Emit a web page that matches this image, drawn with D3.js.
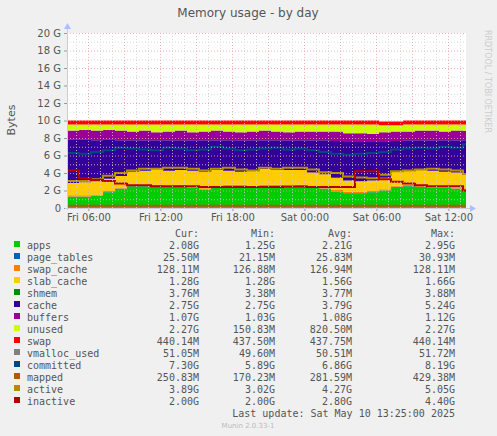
<!DOCTYPE html>
<html>
<head>
<meta charset="UTF-8">
<style>
  body { margin: 0; background: #f0f0f0; }
  text { font-family: "DejaVu Sans", sans-serif; }
  .mono { font-family: "DejaVu Sans Mono", monospace; font-size: 10px; fill: #555; }
</style>
</head>
<body>
<script src="https://cdnjs.cloudflare.com/ajax/libs/d3/7.8.5/d3.min.js"></script>
<script>

// hourly samples, Fri 04:13 .. Sat 13:13 (values in GB)
var apps      = [1.3,1.3,1.4,1.8,2.2,2.5,2.5,2.5,2.4,2.5,2.3,2.1,2.3,2.5,2.5,2.4,2.5,2.5,2.4,2.5,2.3,2.2,1.9,1.7,1.7,1.8,2.0,2.4,2.5,2.4,2.3,2.3,2.2,2.1];
var pageTables = [0.025,0.025,0.025,0.025,0.025,0.025,0.025,0.025,0.025,0.025,0.025,0.025,0.025,0.025,0.025,0.025,0.025,0.025,0.025,0.025,0.025,0.025,0.025,0.025,0.025,0.025,0.025,0.025,0.025,0.025,0.025,0.025,0.025,0.025];
var swapCache = [0.127,0.127,0.127,0.127,0.127,0.127,0.127,0.127,0.127,0.127,0.127,0.127,0.127,0.127,0.127,0.127,0.127,0.127,0.127,0.127,0.127,0.127,0.127,0.127,0.127,0.127,0.127,0.127,0.127,0.127,0.127,0.127,0.127,0.127];
var slabCache = [1.4,1.5,1.5,1.4,1.3,1.5,1.6,1.8,1.7,1.7,1.8,1.9,1.9,1.6,1.5,1.7,1.8,1.7,1.8,1.7,1.6,1.5,1.4,1.3,1.2,1.2,1.3,1.6,1.7,1.8,1.8,1.7,1.7,1.6];
var shmem     = [0.004,0.004,0.004,0.004,0.004,0.004,0.004,0.004,0.004,0.004,0.004,0.004,0.004,0.004,0.004,0.004,0.004,0.004,0.004,0.004,0.004,0.004,0.004,0.004,0.004,0.004,0.004,0.004,0.004,0.004,0.004,0.004,0.004,0.004];
var cache     = [5.0,4.9,4.7,4.5,4.1,3.6,3.5,3.3,3.5,3.4,3.5,3.6,3.4,3.5,3.6,3.5,3.3,3.4,3.4,3.4,3.7,3.9,4.2,4.4,4.5,4.4,4.1,3.5,3.4,3.4,3.5,3.6,3.7,3.9];
var buffers   = [1.0,1.1,1.1,1.1,1.1,1.0,1.1,0.9,1.0,1.1,0.9,1.0,1.1,1.0,0.9,1.0,1.1,1.0,0.9,1.0,1.0,1.0,1.1,1.0,1.0,0.9,1.1,1.1,1.0,1.1,1.1,1.0,1.1,1.07];
var unused    = [0.70,0.60,0.70,0.60,0.70,0.80,0.70,0.90,0.80,0.70,0.90,0.80,0.70,0.80,0.90,0.80,0.70,0.80,0.90,0.80,0.80,0.80,0.80,1.00,1.00,1.10,0.80,0.70,0.80,0.70,0.70,0.80,0.70,0.73];
var swap      = [0.44,0.44,0.44,0.44,0.44,0.44,0.44,0.44,0.44,0.44,0.44,0.44,0.44,0.44,0.44,0.44,0.44,0.44,0.44,0.44,0.44,0.44,0.44,0.44,0.44,0.44,0.44,0.44,0.44,0.44,0.44,0.44,0.44,0.44];

var vmallocUsed = [0.05,0.05,0.05,0.05,0.05,0.05,0.05,0.05,0.05,0.05,0.05,0.05,0.05,0.05,0.05,0.05,0.05,0.05,0.05,0.05,0.05,0.05,0.05,0.05,0.05,0.05,0.05,0.05,0.05,0.05,0.05,0.05,0.05,0.05];
var committed = [6.3,6.2,6.4,6.6,6.9,6.8,6.7,6.6,6.9,6.8,6.6,6.7,7.0,6.8,6.6,6.7,6.8,6.9,6.7,6.8,6.6,6.4,6.2,6.1,6.2,6.3,6.4,6.7,6.8,6.9,6.8,7.0,6.9,7.3];
var mapped    = [0.25,0.25,0.26,0.26,0.25,0.25,0.26,0.25,0.25,0.26,0.25,0.25,0.25,0.26,0.25,0.25,0.25,0.26,0.25,0.25,0.25,0.25,0.26,0.25,0.25,0.25,0.26,0.25,0.25,0.25,0.26,0.25,0.25,0.25];
var active    = [3.1,3.1,3.3,3.7,4.0,4.3,4.5,4.5,4.6,4.6,4.5,4.3,4.5,4.6,4.4,4.3,4.6,4.5,4.6,4.6,4.4,4.1,4.0,3.6,3.5,3.4,3.8,4.2,4.3,4.4,4.5,4.4,4.3,3.9];
var inactive  = [4.3,3.4,3.2,3.1,2.8,2.6,2.6,2.5,2.5,2.5,2.5,2.4,2.4,2.4,2.4,2.4,2.4,2.4,2.45,2.45,2.4,2.4,2.4,2.4,4.2,4.2,3.3,3.0,2.8,2.6,2.5,2.5,2.5,2.0];

var yTicks = [0, 2, 4, 6, 8, 10, 12, 14, 16, 18, 20];

var names = ["apps","page_tables","swap_cache","slab_cache","shmem","cache","buffers","unused","swap","vmalloc_used","committed","mapped","active","inactive"];
var colors = ["#00cc00","#0066b3","#ff8000","#ffcc00","#008f00","#330099","#990099","#ccff00","#ff0000","#808080","#00487d","#b35a00","#b38f00","#b30000"];
var curV = ["2.08G","25.50M","128.11M","1.28G","3.76M","2.75G","1.07G","2.27G","440.14M","51.05M","7.30G","250.83M","3.89G","2.00G"];
var minV = ["1.25G","21.15M","126.88M","1.28G","3.38M","2.75G","1.03G","150.83M","437.50M","49.60M","5.89G","170.23M","3.02G","2.00G"];
var avgV = ["2.21G","25.83M","126.94M","1.56G","3.77M","3.79G","1.08G","820.50M","437.75M","50.51M","6.86G","281.59M","4.27G","2.80G"];
var maxV = ["2.95G","30.93M","128.11M","1.66G","3.88M","5.24G","1.12G","2.27G","440.14M","51.72M","8.19G","429.38M","5.05G","4.40G"];

var stackSeries = [apps, pageTables, swapCache, slabCache, shmem, cache, buffers, unused, swap];
var lineSeries = [vmallocUsed, committed, mapped, active, inactive];

var W = 497, H = 436;
var pL = 67, pR = 466, pT = 33, pB = 208;

var start = new Date(2025, 4, 9, 4, 13);
var times = apps.map(function(d, i){ return d3.timeHour.offset(start, i); });
var end = new Date(2025, 4, 10, 13, 28);

var x = d3.scaleTime().domain([start, end]).range([pL, pR]);
var y = d3.scaleLinear().domain([0, 20]).range([pB, pT]);

var svg = d3.select("body").append("svg").attr("width", W).attr("height", H);

svg.append("rect").attr("x", pL).attr("y", pT).attr("width", pR - pL).attr("height", pB - pT).attr("fill", "#fff");

// stacked data
var rows = times.map(function(t, i){
  var r = { t: t };
  stackSeries.forEach(function(s, k){ r[names[k]] = s[i]; });
  return r;
});
rows.push(Object.assign({}, rows[rows.length - 1], { t: end }));
var stacked = d3.stack().keys(names.slice(0, 9))(rows);

var area = d3.area().curve(d3.curveStepAfter)
  .x(function(d){ return x(d.data.t); })
  .y0(function(d){ return y(d[0]); })
  .y1(function(d){ return y(d[1]); });

svg.selectAll(".layer").data(stacked).enter().append("path")
  .attr("d", area)
  .attr("fill", function(d, i){ return colors[i]; });

// lines
var line = d3.line().curve(d3.curveStepAfter)
  .x(function(d, i){ return x(i < times.length ? times[i] : end); })
  .y(function(d){ return y(d); });
lineSeries.forEach(function(s, k){
  svg.append("path").attr("d", line(s.concat([s[s.length - 1]])))
    .attr("fill", "none").attr("stroke", colors[9 + k]).attr("stroke-width", 2);
});

// grid (drawn on top, like rrdtool)
var g = svg.append("g").attr("opacity", 0.8);
function vline(t, col) {
  var px = Math.round(x(t)) + 0.5;
  if (px < pL || px > pR) return;
  g.append("line").attr("y1", pT).attr("y2", pB).attr("x1", px).attr("x2", px)
    .attr("stroke", col).attr("stroke-dasharray", "1,2");
}
d3.range(0, 20.01, 1).forEach(function(v){
  g.append("line").attr("x1", pL).attr("x2", pR).attr("y1", y(v) + 0.5).attr("y2", y(v) + 0.5)
    .attr("stroke", v % 2 ? "#d0d0d0" : "#f0a0a0").attr("stroke-dasharray", "1,2");
});
d3.timeHour.range(start, end).forEach(function(t){
  vline(t, t.getHours() % 3 === 0 ? "#f0a0a0" : "#d0d0d0");
});

// axes
var yAxis = d3.axisLeft(y).tickValues(yTicks).tickSize(3).tickFormat(function(d){ return d === 0 ? "0" : d + " G"; });
var ya = svg.append("g").attr("transform", "translate(" + pL + ",0)").call(yAxis);
ya.select(".domain").remove();
ya.selectAll("text").attr("fill", "#555").style("font-size", "10px").attr("x", -6);
ya.selectAll("line").attr("stroke", "#999");

var xAxis = d3.axisBottom(x).ticks(d3.timeHour.every(6)).tickSize(3).tickFormat(d3.timeFormat("%a %H:%M"));
var xa = svg.append("g").attr("transform", "translate(0," + pB + ")").call(xAxis);
xa.select(".domain").remove();
xa.selectAll("text").attr("fill", "#555").style("font-size", "10px");
xa.selectAll("line").attr("stroke", "#999");

svg.append("line").attr("x1", pL + 0.5).attr("x2", pL + 0.5).attr("y1", pB + 2).attr("y2", pT - 6).attr("stroke", "#ccd");
svg.append("path").attr("d", "M" + (pL - 3) + "," + (pT - 4) + "L" + (pL + 4) + "," + (pT - 4) + "L" + (pL + 0.5) + "," + (pT - 10) + "Z").attr("fill", "#aac0ff");
svg.append("line").attr("x1", pL - 2).attr("x2", pR + 6).attr("y1", pB + 0.5).attr("y2", pB + 0.5).attr("stroke", "#ccd");
svg.append("path").attr("d", "M" + (pR + 4) + "," + (pB - 3) + "L" + (pR + 4) + "," + (pB + 4) + "L" + (pR + 10) + "," + (pB + 0.5) + "Z").attr("fill", "#aac0ff");

// titles
svg.append("text").attr("x", 248).attr("y", 17).attr("text-anchor", "middle").attr("fill", "#555").style("font-size", "12px").text("Memory usage - by day");
svg.append("text").attr("transform", "translate(15,120) rotate(-90)").attr("text-anchor", "middle").attr("fill", "#555").style("font-size", "11px").text("Bytes");
svg.append("text").attr("transform", "translate(485,30) rotate(90)").attr("fill", "#ccc").style("font-size", "8px").text("RRDTOOL / TOBI OETIKER");

// legend
var ly = 249, lh = 12;
[["Cur:", 199], ["Min:", 275], ["Avg:", 352], ["Max:", 455]].forEach(function(h){
  svg.append("text").attr("class", "mono").attr("x", h[1]).attr("y", 237).attr("text-anchor", "end").text(h[0]);
});
names.forEach(function(n, i){
  var yy = ly + i * lh;
  svg.append("rect").attr("x", 14).attr("y", yy - 8).attr("width", 6).attr("height", 6).attr("fill", colors[i]);
  svg.append("text").attr("class", "mono").attr("x", 27).attr("y", yy).text(n);
  [[curV, 199], [minV, 275], [avgV, 352], [maxV, 455]].forEach(function(c){
    svg.append("text").attr("class", "mono").attr("x", c[1]).attr("y", yy).attr("text-anchor", "end").text(c[0][i]);
  });
});
svg.append("text").attr("class", "mono").attr("x", 455).attr("y", 417).attr("text-anchor", "end").text("Last update: Sat May 10 13:25:00 2025");
svg.append("text").attr("x", 248).attr("y", 428).attr("text-anchor", "middle").attr("fill", "#bbb").style("font-size", "7px").text("Munin 2.0.33-1");

</script>
</body>
</html>
